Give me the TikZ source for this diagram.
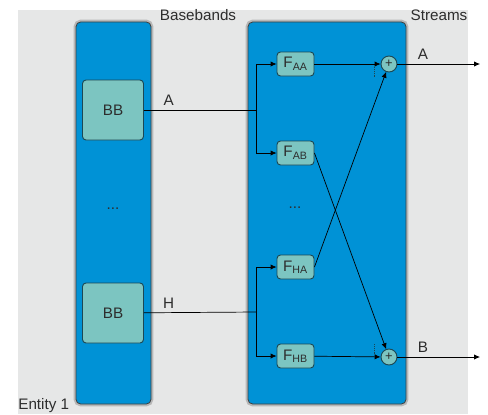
\documentclass[tikz,border=0pt]{standalone}
\usepackage{fontspec}
\setmainfont{Liberation Sans}
\usetikzlibrary{arrows.meta}
\definecolor{bggray}{RGB}{230,231,231}
\definecolor{panelblue}{RGB}{0,146,214}
\definecolor{boxteal}{RGB}{124,197,193}
\definecolor{boxedge}{RGB}{28,72,84}
\definecolor{txtgray}{RGB}{45,45,45}
\tikzset{
panel/.style = {rectangle, rounded corners=4pt, fill=panelblue,
                draw=black!75, line width=0.7pt,
                preaction={draw=black!28, line width=4pt}},
bbbox/.style = {rectangle, rounded corners=3pt, fill=boxteal, draw=boxedge,
                line width=0.8pt, minimum width=1.83cm, minimum height=1.8cm},
filt/.style = {rectangle, rounded corners=3pt, fill=boxteal, draw=boxedge,
               line width=0.8pt, minimum width=1.11cm, minimum height=0.72cm,
               inner sep=0pt},
adder/.style = {circle, fill=boxteal, draw=boxedge, line width=0.8pt,
                minimum size=0.48cm, inner sep=0pt, font=\fontsize{11}{11}\selectfont},
sig/.style = {-{Latex[length=5pt,width=4.5pt]}},
}

\begin{document}
\begin{tikzpicture}[x=0.03cm, y=-0.03cm, font=\fontsize{13}{15}\selectfont,
                    text=txtgray, line width=0.6pt]
    \useasboundingbox (0,0) rectangle (488,414);
    \fill[bggray] (18,10) rectangle (468,414);

    % panels
    \node[panel, minimum width=2.25cm, minimum height=11.46cm] (bbpanel) at (113.5,213) {};
    \node[panel, minimum width=4.74cm, minimum height=11.46cm] (stpanel) at (327,213) {};
    \node (bbtitle) at (198,15) {Basebands};
    \node (sttitle) at (439,15) {Streams};
    \node[anchor=base west, inner sep=0pt] (entity) at (18,409.5) {Entity 1};

    % basebands
    \node[bbbox] (bbA) at (113,110) {BB};
    \node (bbdots) at (113,209) {...};
    \node[bbbox] (bbH) at (113,313) {BB};

    % filters and adders
    \node[filt] (faa) at (295.5,64) {F\textsubscript{AA}};
    \node[filt] (fab) at (295.5,153) {F\textsubscript{AB}};
    \node (fdots) at (295,208) {...};
    \node[filt] (fha) at (295.5,267) {F\textsubscript{HA}};
    \node[filt] (fhb) at (295.5,356) {F\textsubscript{HB}};
    \node[adder] (sumA) at (389,64) {+};
    \node[adder] (sumB) at (389,357) {+};

    \coordinate (jA) at (256,110);
    \coordinate (jH) at (256,312);
    \coordinate (outA) at (480,64);
    \coordinate (outB) at (480,357);

    \draw (bbA) -- node[above, pos=0.22] {A} (jA);
    \draw (bbH) -- node[above, pos=0.22] {H} (jH);
    \draw[sig] (jA) |- (faa);
    \draw[sig] (jA) |- (fab);
    \draw[sig] (jH) |- (fha);
    \draw[sig] (jH) |- (fhb);

    \draw[sig] (faa) -- (sumA);
    \draw[sig] (fhb) -- (sumB);
    \draw[sig] (fab.east) -- (sumB);
    \draw[sig] (fha.east) -- (sumA);
    \draw[densely dotted, boxedge] ([shift={(-15,3)}]sumA.center) -- ++(0,10);
    \draw[densely dotted, boxedge] ([shift={(-15,-13)}]sumB.center) -- ++(0,10);

    \draw[sig] (sumA) -- node[above, pos=0.31] {A} (outA);
    \draw[sig] (sumB) -- node[above, pos=0.31] {B} (outB);
\end{tikzpicture}
\end{document}
